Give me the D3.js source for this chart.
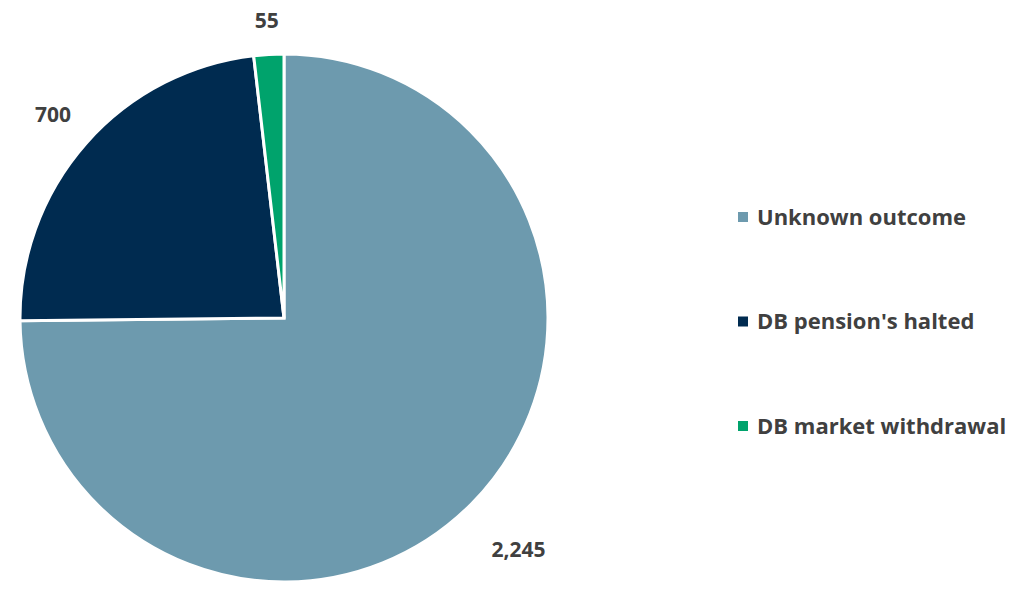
<!DOCTYPE html>
<html>
<head>
<meta charset="utf-8">
<script src="https://cdn.jsdelivr.net/npm/d3@7"></script>
<style>
  body { margin: 0; background: #fff; }
  text { font-family: "Open Sans", sans-serif; font-weight: bold; fill: #404040; }
</style>
</head>
<body>
<svg id="chart" width="1024" height="597"></svg>
<script>
// chart data
var categories = ["Unknown outcome", "DB pension's halted", "DB market withdrawal"];
var values = [2245, 700, 55];
var labels = ["2,245", "700", "55"];
var colors = ["#6d9aae", "#002b50", "#00a36c"];
var labelRadius = [330, 308, 298];

var svg = d3.select("#chart");
var cx = 284, cy = 318, radius = 264;

var pie = d3.pie().sort(null).value(function(d) { return d; });
var arcs = pie(values);

var arc = d3.arc().innerRadius(0).outerRadius(radius);

var g = svg.append("g").attr("transform", "translate(" + cx + "," + cy + ")");

g.selectAll("path")
    .data(arcs)
    .enter().append("path")
    .attr("d", arc)
    .attr("fill", function(d, i) { return colors[i]; })
    .attr("stroke", "#fff")
    .attr("stroke-width", 3);

g.selectAll(".label")
    .data(arcs)
    .enter().append("text")
    .attr("class", "label")
    .attr("transform", function(d, i) {
        var r = labelRadius[i];
        return "translate(" + d3.arc().innerRadius(r).outerRadius(r).centroid(d) + ")";
    })
    .attr("text-anchor", "middle")
    .attr("dy", "0.35em")
    .style("font-size", "21px")
    .text(function(d, i) { return labels[i]; });

// legend
var legend = svg.selectAll(".legend")
    .data(categories)
    .enter().append("g")
    .attr("class", "legend")
    .attr("transform", function(d, i) { return "translate(738," + (217 + i * 104.5) + ")"; });

legend.append("rect")
    .attr("x", 0).attr("y", -5)
    .attr("width", 10).attr("height", 10)
    .attr("fill", function(d, i) { return colors[i]; });

legend.append("text")
    .attr("x", 19)
    .attr("dy", "0.35em")
    .style("font-size", "22px")
    .text(function(d) { return d; });
</script>
</body>
</html>
